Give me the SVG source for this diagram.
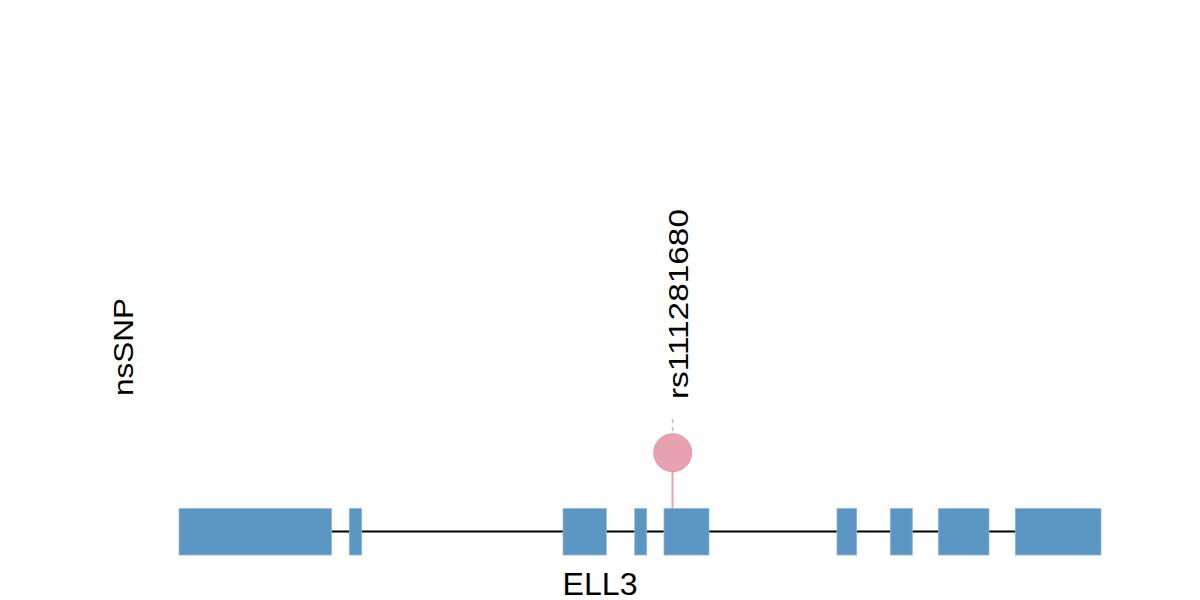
<svg xmlns="http://www.w3.org/2000/svg" width="1200" height="600" viewBox="0 0 1200 600">
<style>
.exon{fill:#5b97c2;stroke:#8fb8d8;stroke-width:0.8}
.lbl{font-family:"Liberation Sans",Arial,sans-serif;font-size:32px;fill:#000}
</style>
<rect width="1200" height="600" fill="#fff"/>
<g id="connectors">
<line x1="179" y1="531.5" x2="1101" y2="531.5" stroke="#000" stroke-width="2"/>
<line x1="672.5" y1="453" x2="672.5" y2="532" stroke="#e8a1b0" stroke-width="2"/>
<line x1="672.5" y1="419" x2="672.5" y2="433" stroke="#bbbbbb" stroke-width="1.5" stroke-dasharray="4,4"/>
</g>
<g id="gene-ELL3">
<rect class="exon" x="179" y="508.5" width="152.5" height="46.5"/>
<rect class="exon" x="349.3" y="508.5" width="12.4" height="46.5"/>
<rect class="exon" x="563" y="508.5" width="43.3" height="46.5"/>
<rect class="exon" x="634.7" y="508.5" width="12" height="46.5"/>
<rect class="exon" x="664" y="508.5" width="45" height="46.5"/>
<rect class="exon" x="837" y="508.5" width="19.7" height="46.5"/>
<rect class="exon" x="890.3" y="508.5" width="22" height="46.5"/>
<rect class="exon" x="938.3" y="508.5" width="50.7" height="46.5"/>
<rect class="exon" x="1015.3" y="508.5" width="85.7" height="46.5"/>
<text class="lbl" x="600" y="595" text-anchor="middle" textLength="75" lengthAdjust="spacingAndGlyphs">ELL3</text>
</g>
<g id="snp-rs111281680">
<circle cx="672.7" cy="452.7" r="19" fill="#e8a1b0" stroke="#e39aab" stroke-width="1"/>
<text class="lbl" transform="translate(688,399) rotate(-90) scale(1,0.88)" x="0" y="0" textLength="190" lengthAdjust="spacingAndGlyphs">rs111281680</text>
</g>
<g id="track-label">
<text class="lbl" transform="translate(133,396) rotate(-90) scale(1,0.88)" x="0" y="0" textLength="98" lengthAdjust="spacingAndGlyphs">nsSNP</text>
</g>
</svg>
